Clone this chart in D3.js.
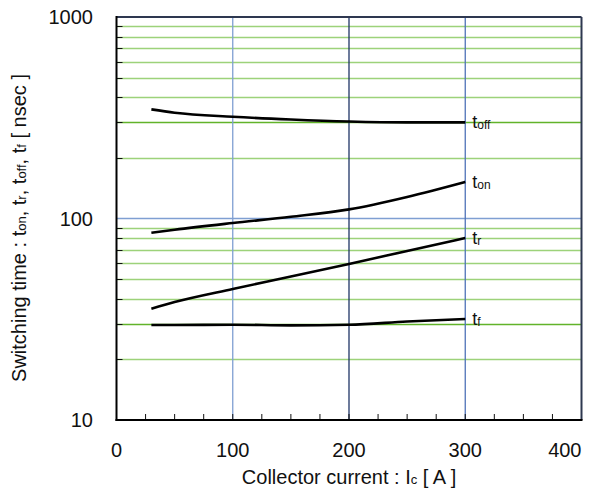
<!DOCTYPE html>
<html><head><meta charset="utf-8">
<script src="https://cdn.jsdelivr.net/npm/d3@7"></script>
<style>body{margin:0;background:#fff}svg{display:block}text{font-family:"Liberation Sans",Arial,sans-serif;fill:#111}</style>
</head><body><svg id="c" width="596" height="498"></svg>
<script>
const current = [30, 50, 100, 150, 200, 250, 300];
const tOff = [348, 335, 320, 310, 303, 300, 300];
const tOn  = [85, 88, 95, 102, 111, 128, 152];
const tR   = [35.7, 38.5, 44.7, 51.5, 59.5, 69, 80];
const tF   = [29.6, 29.6, 29.7, 29.5, 29.7, 30.8, 31.7];
const seriesNames = [["t","off"],["t","on"],["t","r"],["t","f"]];
const xTicks = [0, 100, 200, 300, 400];
const yTicks = [10, 100, 1000];

const svg = d3.select("#c");
const L = 116.5, R = 581.5, T = 17, B = 420;
const x = d3.scaleLinear().domain([0, 400]).range([L, R]);
const y = d3.scaleLog().domain([10, 1000]).range([B, T]);

const minors = [];
[10, 100].forEach(d => { for (let k = 2; k <= 9; k++) minors.push(d * k); });
svg.append("g").selectAll("line").data(minors).join("line")
  .attr("x1", L).attr("x2", R)
  .attr("y1", d => Math.round(y(d)) + 0.5).attr("y2", d => Math.round(y(d)) + 0.5)
  .attr("stroke", d => (d === 30 || d === 300) ? "#62b32a" : "#9dd27a").attr("stroke-width", 1.3);
svg.append("line").attr("x1", L).attr("x2", R).attr("y1", y(100)).attr("y2", y(100))
  .attr("stroke", "#7f9fd2").attr("stroke-width", 1.3);
const vCol = {100: "#7f9fd2", 200: "#1f3566", 300: "#4f72b8"};
svg.append("g").selectAll("line").data([100, 200, 300]).join("line")
  .attr("x1", d => x(d)).attr("x2", d => x(d)).attr("y1", T).attr("y2", B)
  .attr("stroke", d => vCol[d]).attr("stroke-width", 1.3);

svg.append("g").selectAll("line").data(minors).join("line")
  .attr("x1", L).attr("x2", L + 6)
  .attr("y1", d => Math.round(y(d)) + 0.5).attr("y2", d => Math.round(y(d)) + 0.5)
  .attr("stroke", "#111").attr("stroke-width", 1);
svg.append("g").selectAll("line").data(d3.range(25, 400, 25)).join("line")
  .attr("x1", d => x(d)).attr("x2", d => x(d)).attr("y1", B).attr("y2", B - 6)
  .attr("stroke", "#111").attr("stroke-width", 1);

svg.append("line").attr("x1", L).attr("x2", R).attr("y1", T).attr("y2", T).attr("stroke", "#2e3850").attr("stroke-width", 2);
svg.append("line").attr("x1", R).attr("x2", R).attr("y1", T).attr("y2", B).attr("stroke", "#2e3850").attr("stroke-width", 2);
svg.append("line").attr("x1", L).attr("x2", L).attr("y1", T - 1).attr("y2", B + 1).attr("stroke", "#000").attr("stroke-width", 2);
svg.append("line").attr("x1", L - 1).attr("x2", R + 1).attr("y1", B).attr("y2", B).attr("stroke", "#000").attr("stroke-width", 2);

svg.append("g").selectAll("text").data(xTicks).join("text")
  .attr("x", d => Math.min(x(d), 594)).attr("y", 457)
  .attr("text-anchor", d => x(d) > 570 ? "end" : "middle")
  .style("font-size", "20px").text(d => d);
svg.append("g").selectAll("text").data(yTicks).join("text")
  .attr("x", 93).attr("y", d => y(d) + 7).attr("text-anchor", "end")
  .style("font-size", "20px").text(d => d);

const line = d3.line().x((d, i) => x(current[i])).y(d => y(d)).curve(d3.curveMonotoneX);
const all = [tOff, tOn, tR, tF];
svg.append("g").selectAll("path").data(all).join("path")
  .attr("d", d => line(d)).attr("fill", "none").attr("stroke", "#000").attr("stroke-width", 2.6);

all.forEach((s, i) => {
  const t = svg.append("text").attr("x", x(300) + 7).attr("y", y(s[s.length - 1]) + 6).style("font-size", "18px");
  t.append("tspan").text(seriesNames[i][0]);
  t.append("tspan").attr("dy", 1).style("font-size", "12px").text(seriesNames[i][1]);
});

const xt = svg.append("text").attr("x", (L + R) / 2).attr("y", 484).attr("text-anchor", "middle").style("font-size", "20px");
xt.append("tspan").text("Collector current : I");
xt.append("tspan").style("font-size", "13px").text("c");
xt.append("tspan").text(" [ A ]");

const yt = svg.append("text").attr("transform", `translate(26,228) rotate(-90)`).attr("text-anchor", "middle").style("font-size", "20px");
yt.append("tspan").text("Switching time : t");
yt.append("tspan").style("font-size", "13px").text("on");
yt.append("tspan").text(", t");
yt.append("tspan").style("font-size", "13px").text("r");
yt.append("tspan").text(", t");
yt.append("tspan").style("font-size", "13px").text("off");
yt.append("tspan").text(", t");
yt.append("tspan").style("font-size", "13px").text("f");
yt.append("tspan").text(" [ nsec ]");
</script></body></html>
